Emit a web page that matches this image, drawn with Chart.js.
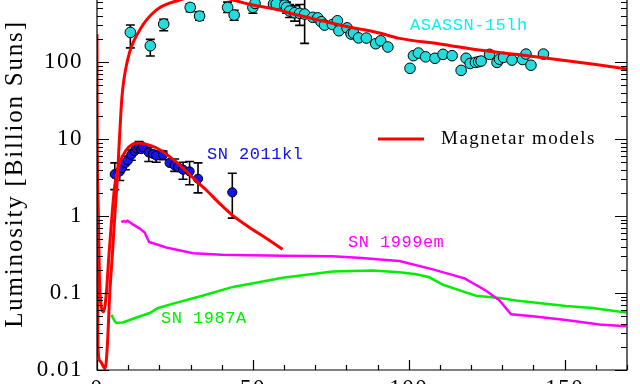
<!DOCTYPE html>
<html>
<head>
<meta charset="utf-8">
<script src="https://cdn.jsdelivr.net/npm/chart.js@4.4.1/dist/chart.umd.min.js"></script>
<style>
  html, body { margin: 0; padding: 0; background: #fff; overflow: hidden; }
  #wrap { width: 640px; height: 400px; }
</style>
</head>
<body>
<div id="wrap"><canvas id="lum" width="640" height="400"></canvas></div>
<script>
// tick values
const xTicks = [0, 50, 100, 150];
const yTicks = [0.01, 0.1, 1, 10, 100];

// ASASSN-15lh observations (days, billion suns) + error bars for the first ones
const asT = [10.7, 17.1, 21.4, 29.9, 32.9, 41.9, 44.0, 50.0, 50.7, 56.6, 57.5, 60.2, 60.8, 61.8, 63.4, 65.0, 66.6,
  69.2, 70.8, 71.9, 73.0, 75.5, 77.1, 77.6, 80.2, 81.5, 82.3, 83.9, 86.4, 89.4, 91.0, 93.3,
  100.4, 101.5, 103.1, 105.4, 108.4, 111.0, 113.9, 116.8, 118.4, 119.7, 121.4, 122.4, 123.2, 125.9,
  128.3, 129.1, 130.4, 133.1, 136.5, 137.6, 139.2, 143.2];
const asL = [243, 163, 312, 513, 396, 513, 408, 513, 578, 567, 567, 550, 513, 460, 437, 429, 420,
  381, 375, 334, 302, 307, 344, 255, 278, 231, 238, 206, 205, 173, 189, 157,
  83, 121, 131, 117, 112, 126, 121, 78, 112, 96, 99, 101, 103, 126,
  99, 109, 115, 106, 108, 127, 91, 127];
const asLo = [153, 120, 255, 450, 350, 440, 350, 430, null, null, null, 480, 430, 380, 340, 300, 175];
const asHi = [303, 197, 358, 570, 450, 600, 470, 570, null, null, null, 640, 600, 560, 540, 560, 900];

// SN 2011kl observations
const klT = [5.7, 7.3, 8.0, 9.1, 9.9, 11.0, 12.1, 12.6, 13.5, 14.2, 14.7, 16.6, 18.0, 19.0, 21.2, 23.3, 24.9, 26.0, 27.6, 29.7, 32.4, 43.4];
const klL = [3.5, 3.8, 4.2, 4.9, 5.3, 6.25, 7.0, 7.6, 8.0, 7.4, 7.9, 6.7, 6.4, 6.1, 6.25, 4.9, 4.55, 4.3, 4.0, 3.8, 3.05, 2.03];
const klLo = [2.2, 2.9, null, 4.0, null, 5.3, null, 6.7, 7.0, null, null, 5.1, null, 5.0, 5.4, null, 3.8, null, 3.0, 2.55, 2.0, 0.94];
const klHi = [4.9, 4.9, null, 6.0, null, 7.2, null, 8.5, 9.3, null, null, 7.8, null, 7.0, 7.0, null, 5.5, null, 5.0, 5.1, 4.9, 3.6];

// magnetar model curves
const asModT = [0, 0.3, 1, 2.6, 3.3, 4.1, 5.0, 5.7, 6.5, 7.2, 8.0, 9.8, 13.7, 19, 26.5, 32, 36, 40, 43.6, 50, 58.5, 61.7,
  70, 80, 90.6, 97, 110, 122.6, 135, 150, 160, 170];
const asModL = [230, 0.02, 0.013, 0.0105, 0.02, 0.1, 0.35, 1, 3, 10, 35, 106, 260, 473, 640, 720, 735, 700, 640, 550, 473, 433,
  360, 290, 238, 203, 172, 143, 125, 105, 93, 81];
const klModT = [0, 0.4, 0.8, 1.3, 2.1, 3.0, 3.8, 4.7, 5.7, 7.3, 9.4, 11.5, 13.1, 16, 19, 24.4, 29.7, 32.3, 35.1, 39.3, 43.5, 48.9, 53.8, 59.5];
const klModL = [6, 1.2, 0.15, 0.07, 0.057, 0.1, 0.3, 0.9, 2.5, 4.9, 7.2, 8.6, 8.9, 8.5, 7.7, 5.45, 3.48, 2.74, 2.16, 1.46, 1.02, 0.71, 0.53, 0.37];

// SN 1999em
const emT = [7.8, 8.6, 9.2, 9.8, 10.5, 11.5, 13.7, 15.3, 16.7, 22.2, 30.8, 40, 48.9, 60, 75.6, 85, 91.7, 97.0, 107.7, 117.9,
  124.8, 129.1, 132.8, 139.7, 150.4, 161.1, 169.7];
const emL = [0.836, 0.86, 0.84, 0.87, 0.83, 0.78, 0.686, 0.61, 0.46, 0.39, 0.328, 0.315, 0.31, 0.305, 0.30, 0.285, 0.27, 0.26, 0.203, 0.155,
  0.107, 0.08, 0.053, 0.050, 0.0446, 0.039, 0.037];

// SN 1987A
const aT = [4.6, 5.7, 6.2, 8.3, 12, 16.9, 19.6, 25, 32.9, 43.6, 59.6, 75.6, 88.5, 97, 102.4, 106.6, 111, 117.3, 121.6, 129.1, 134.4, 150.4, 158.9, 169.7];
const aL = [0.052, 0.043, 0.041, 0.0415, 0.047, 0.055, 0.064, 0.074, 0.090, 0.12, 0.158, 0.19, 0.196, 0.186, 0.175, 0.16, 0.128, 0.105, 0.092, 0.086, 0.080, 0.068, 0.064, 0.056];

const serif = '"Liberation Serif", "DejaVu Serif", serif';
const mono = '"Liberation Mono", "DejaVu Sans Mono", monospace';

function pts(xs, ys) {
  return xs.map((x, i) => ({ x: x, y: ys[i] }));
}

function errBars(ctx, x, y, ts, lo, hi, cap) {
  for (let i = 0; i < lo.length; i++) {
    if (lo[i] == null) continue;
    const px = x.getPixelForValue(ts[i]);
    const y1 = y.getPixelForValue(lo[i]);
    const y2 = y.getPixelForValue(hi[i]);
    ctx.moveTo(px, y1); ctx.lineTo(px, y2);
    ctx.moveTo(px - cap, y1); ctx.lineTo(px + cap, y1);
    ctx.moveTo(px - cap, y2); ctx.lineTo(px + cap, y2);
  }
}

function label(ctx, txt, x, y, color, font, spacing) {
  ctx.fillStyle = color;
  ctx.font = font;
  ctx.letterSpacing = spacing;
  ctx.fillText(txt, x, y);
}

const decor = {
  id: 'decor',
  beforeUpdate(chart) { chart.ctx.letterSpacing = '1.5px'; },
  beforeDraw(chart) { chart.ctx.letterSpacing = '1.5px'; },
  beforeDatasetsDraw(chart) {
    const { ctx, chartArea: a, scales: { x, y } } = chart;
    ctx.save();
    ctx.beginPath();
    ctx.rect(a.left, a.top, a.right - a.left, a.bottom - a.top);
    ctx.clip();
    ctx.strokeStyle = '#000';
    ctx.lineWidth = 1.6;
    ctx.beginPath();
    errBars(ctx, x, y, asT, asLo, asHi, 4.5);
    errBars(ctx, x, y, klT, klLo, klHi, 4.5);
    ctx.stroke();
    ctx.restore();
  },
  afterDraw(chart) {
    const { ctx, chartArea: a, scales: { x, y } } = chart;
    ctx.save();
    ctx.strokeStyle = '#000';
    ctx.lineWidth = 1.2;
    ctx.beginPath();
    ctx.moveTo(a.left, a.top); ctx.lineTo(a.left, a.bottom);
    ctx.lineTo(a.right, a.bottom); ctx.lineTo(a.right, a.top);
    for (let e = -2; e <= 2; e++) {
      for (let k = 1; k <= 9; k++) {
        const v = k * Math.pow(10, e);
        if (v > y.max) continue;
        const py = Math.round(y.getPixelForValue(v)) + 0.5;
        const len = k === 1 ? 12 : 6;
        ctx.moveTo(a.left, py); ctx.lineTo(a.left + len, py);
        ctx.moveTo(a.right, py); ctx.lineTo(a.right - len, py);
      }
    }
    for (let v = 0; v <= x.max; v += 10) {
      const px = Math.round(x.getPixelForValue(v)) + 0.5;
      const len = v % 50 === 0 ? 10 : 5;
      ctx.moveTo(px, a.bottom); ctx.lineTo(px, a.bottom - len);
    }
    ctx.stroke();

    // legend entry
    ctx.strokeStyle = '#ff0000';
    ctx.lineWidth = 3;
    ctx.beginPath();
    ctx.moveTo(378, 139); ctx.lineTo(424, 139);
    ctx.stroke();

    ctx.textAlign = 'left';
    ctx.textBaseline = 'alphabetic';
    label(ctx, 'Magnetar models', 441, 144, '#000', '19px ' + serif, '1.5px');
    label(ctx, 'ASASSN-15lh', 410, 30, '#11eeee', '17px ' + mono, '0.5px');
    label(ctx, 'SN 2011kl', 207, 159, '#1010e8', '17px ' + mono, '0.5px');
    label(ctx, 'SN 1999em', 348, 247, '#ff00ff', '17px ' + mono, '0.5px');
    label(ctx, 'SN 1987A', 161, 323, '#00ee00', '17px ' + mono, '0.5px');

    // y axis title
    ctx.translate(22, 174);
    ctx.rotate(-Math.PI / 2);
    ctx.textAlign = 'center';
    label(ctx, 'Luminosity [Billion Suns]', 0, 0, '#000', '25px ' + serif, '1.8px');
    ctx.restore();
  }
};

new Chart(document.getElementById('lum'), {
  type: 'scatter',
  data: {
    datasets: [
      { type: 'line', data: pts(asModT, asModL), borderColor: '#ff0000', borderWidth: 3, pointRadius: 0, cubicInterpolationMode: 'monotone' },
      { type: 'line', data: pts(klModT, klModL), borderColor: '#ff0000', borderWidth: 3, pointRadius: 0, cubicInterpolationMode: 'monotone' },
      { data: pts(asT, asL), backgroundColor: '#25dcdc', borderColor: '#000', borderWidth: 1, pointRadius: 5.3 },
      { data: pts(klT, klL), backgroundColor: '#1414ee', borderColor: '#000', borderWidth: 1, pointRadius: 4.6 },
      { type: 'line', data: pts(emT, emL), borderColor: '#ff00ff', borderWidth: 2.5, pointRadius: 0 },
      { type: 'line', data: pts(aT, aL), borderColor: '#00ee00', borderWidth: 2.5, pointRadius: 0 }
    ]
  },
  options: {
    responsive: false,
    animation: false,
    events: [],
    layout: { autoPadding: false, padding: { left: 0, right: 13, top: 0, bottom: 0 } },
    plugins: { legend: { display: false }, tooltip: { enabled: false } },
    scales: {
      x: {
        type: 'linear', min: 0, max: 170,
        grid: { display: false, drawTicks: false }, border: { display: false },
        afterBuildTicks: s => { s.ticks = xTicks.map(v => ({ value: v })); },
        afterFit: s => { s.height = 30; s.paddingLeft = 0; s.paddingRight = 0; },
        ticks: { font: { family: serif, size: 23 }, color: '#000', padding: 5, maxRotation: 0, autoSkip: false }
      },
      y: {
        type: 'logarithmic', min: 0.01, max: 640,
        grid: { display: false, drawTicks: false }, border: { display: false },
        afterBuildTicks: s => { s.ticks = yTicks.map(v => ({ value: v })); },
        afterFit: s => { s.width = 97; s.paddingTop = 0; s.paddingBottom = 0; },
        ticks: { font: { family: serif, size: 23 }, color: '#000', padding: 14, autoSkip: false, callback: v => String(v) }
      }
    }
  },
  plugins: [decor]
});
</script>
</body>
</html>
